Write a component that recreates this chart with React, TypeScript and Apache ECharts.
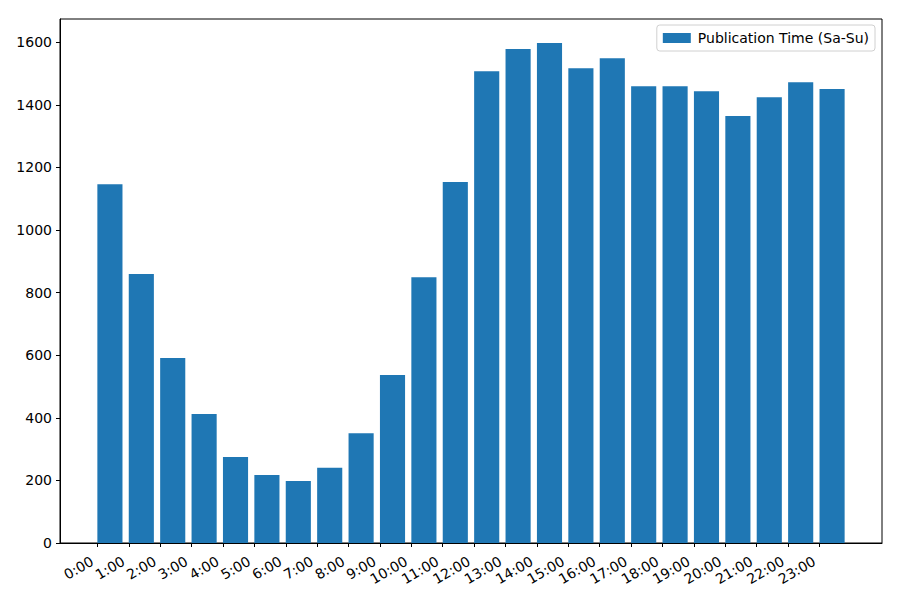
import React, { useEffect, useRef } from "react";
import * as echarts from "echarts";

const hours: number[] = Array.from({ length: 24 }, (_, i) => i);
const tickLabels: string[] = hours.map((h) => `${h}:00`);
const counts: number[] = [
  1146, 859, 591, 412, 275, 217, 198, 240, 351, 537, 849, 1153,
  1507, 1578, 1597, 1517, 1549, 1459, 1459, 1443, 1364, 1424, 1472, 1450,
];
const seriesName = "Publication Time (Sa-Su)";

const X_MIN = -1.19;
const X_MAX = 24.99;
const Y_MAX = 1674;

export default function App() {
  const ref = useRef<HTMLDivElement>(null);
  useEffect(() => {
    if (!ref.current) return;
    const chart = echarts.init(ref.current, null, { renderer: "svg" });
    const gridLeft = 60;
    const gridRight = 18;
    const plotW = 900 - gridLeft - gridRight;
    const barW = (0.8 * plotW) / (X_MAX - X_MIN);
    const font = "DejaVu Sans";
    chart.setOption({
      animation: false,
      textStyle: { fontFamily: font },
      grid: {
        left: gridLeft,
        right: gridRight,
        top: 19,
        bottom: 57,
        show: true,
        borderColor: "#000",
        borderWidth: 1,
        containLabel: false,
      },
      legend: {
        right: 25,
        top: 25,
        data: [seriesName],
        icon: "rect",
        itemWidth: 28,
        itemHeight: 10,
        itemGap: 10,
        padding: [6, 6, 6, 6],
        borderColor: "#d0d0d0",
        borderWidth: 1,
        borderRadius: 3,
        backgroundColor: "#fff",
        textStyle: { fontFamily: font, fontSize: 14, color: "#000", padding: [0, 0, 0, 2] },
      },
      xAxis: {
        type: "value",
        min: X_MIN,
        max: X_MAX,
        axisLine: { show: true, onZero: false, lineStyle: { color: "#000" } },
        splitLine: { show: false },
        axisTick: {
          show: true,
          customValues: hours,
          length: 4,
          lineStyle: { color: "#000" },
        },
        axisLabel: {
          customValues: hours,
          formatter: (v: number) => tickLabels[Math.round(v)] ?? "",
          rotate: 30,
          fontSize: 14,
          color: "#000",
          fontFamily: font,
          margin: 14,
          padding: [0, 6, 0, 0],
        },
      },
      yAxis: {
        type: "value",
        min: 0,
        max: Y_MAX,
        interval: 200,
        axisLine: { show: true, onZero: false, lineStyle: { color: "#000" } },
        splitLine: { show: false },
        axisTick: { show: true, length: 4, lineStyle: { color: "#000" } },
        axisLabel: {
          fontSize: 14,
          color: "#000",
          fontFamily: font,
          margin: 8,
          showMaxLabel: false,
          formatter: (v: number) => (v % 200 === 0 ? String(v) : ""),
        },
      },
      series: [
        {
          name: seriesName,
          type: "bar",
          data: hours.map((h, i) => [h + 0.4, counts[i]]),
          barWidth: barW,
          itemStyle: { color: "#1f77b4" },
        },
      ],
    });
    return () => chart.dispose();
  }, []);
  return <div ref={ref} style={{ width: 900, height: 600, margin: -8 }} />;
}
